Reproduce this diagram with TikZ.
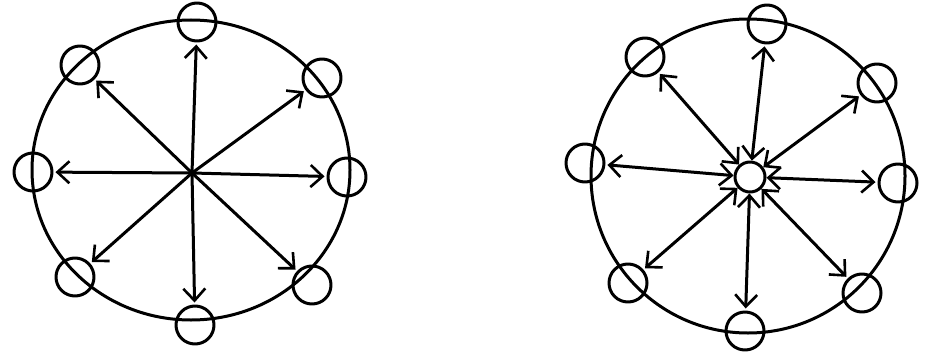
\documentclass[tikz,border=0pt]{standalone}
\usetikzlibrary{arrows.meta,shapes.geometric}
\begin{document}
\begin{tikzpicture}[x=1pt,y=-1pt,
  ink/.style={line width=3pt,line cap=round,line join=round},
  bigring/.style={ink,draw,inner sep=0pt},
  pad/.style={ink,draw,circle,minimum size=38pt,inner sep=0pt},
  hub/.style={ink,draw,circle,minimum size=30pt,inner sep=0pt},
  barb/.tip={Straight Barb[length=12pt,width=22pt,line width=2.6pt]},
  link/.style={ink,-barb,shorten >=2pt},
  duplex/.style={ink,barb-barb,shorten >=2pt}
]
\useasboundingbox (0,0) rectangle (925,353);
% ---------- left diagram ----------
\node[bigring,ellipse,minimum width=318pt,minimum height=300pt] (Lring) at (191,170) {};
\coordinate (Lc) at (192,173);
\node[pad] (L1) at (197,22) {};
\node[pad] (L2) at (322,78) {};
\node[pad] (L3) at (347,177) {};
\node[pad] (L4) at (312,285) {};
\node[pad] (L5) at (195,325) {};
\node[pad] (L6) at (75,277) {};
\node[pad] (L7) at (33,172) {};
\node[pad] (L8) at (80,65) {};
\foreach \n in {L1,L2,L3,L4,L5,L6,L7,L8}
  \draw[link] (Lc) -- (\n);
% ---------- right diagram ----------
\node[bigring,circle,minimum size=314pt] (Rring) at (748,176) {};
\node[hub] (Rc) at (750,177) {};
\node[pad] (R1) at (767,24) {};
\node[pad] (R2) at (877,83) {};
\node[pad] (R3) at (898,183) {};
\node[pad] (R4) at (862,293) {};
\node[pad] (R5) at (745,331) {};
\node[pad] (R6) at (628,283) {};
\node[pad] (R7) at (585,163) {};
\node[pad] (R8) at (645,57) {};
\foreach \n in {R1,R2,R3,R4,R5,R6,R7,R8}
  \draw[duplex] (Rc) -- (\n);
\end{tikzpicture}
\end{document}
